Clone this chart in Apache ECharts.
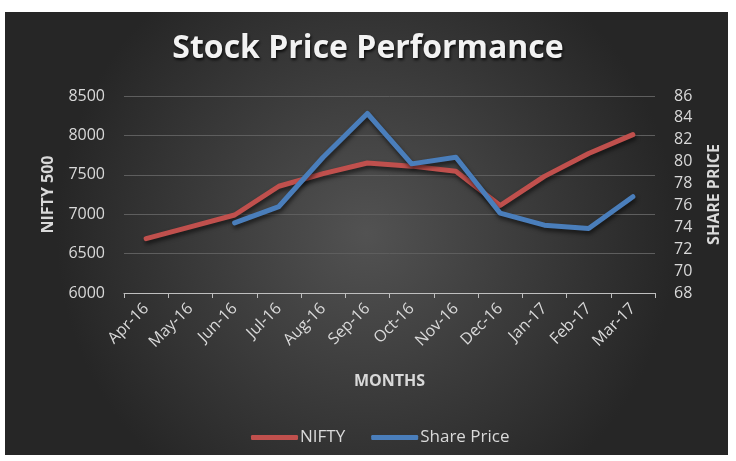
<!DOCTYPE html>
<html>
<head>
<meta charset="utf-8">
<script src="https://cdn.jsdelivr.net/npm/echarts@6/dist/echarts.min.js"></script>
<style>
  html, body { margin: 0; padding: 0; background: #fff; }
  #chart { width: 736px; height: 461px; }
</style>
</head>
<body>
<div id="chart"></div>
<script>
const months = ['Apr-16', 'May-16', 'Jun-16', 'Jul-16', 'Aug-16', 'Sep-16', 'Oct-16', 'Nov-16', 'Dec-16', 'Jan-17', 'Feb-17', 'Mar-17']
const nifty = [6690, 6840, 6990, 7355, 7515, 7650, 7610, 7545, 7110, 7480, 7770, 8010]
const sharePrice = [null, null, 74.4, 75.9, 80.4, 84.4, 79.8, 80.4, 75.3, 74.2, 73.9, 76.8]

const labelColor = '#d9d9d9'
const font = 'Open Sans'

let myChart = echarts.init(document.getElementById('chart'), null, { renderer: 'canvas' })

const lineShadow = {
    shadowColor: 'rgba(0,0,0,0.6)',
    shadowBlur: 4,
    shadowOffsetY: 3,
    shadowOffsetX: 1
}

myChart.setOption({
    backgroundColor: '#ffffff',
    animation: false,
    graphic: [
        {
            type: 'rect',
            left: 5,
            top: 12,
            z: -10,
            shape: { width: 723, height: 443 },
            style: {
                fill: new echarts.graphic.RadialGradient(0.5, 0.5, 0.7, [
                    { offset: 0, color: '#525252' },
                    { offset: 1, color: '#262626' }
                ])
            }
        }
    ],
    title: {
        text: 'Stock Price Performance',
        left: 'center',
        top: 28,
        textStyle: {
            fontFamily: font,
            fontWeight: 'bold',
            fontSize: 32,
            color: '#f2f2f2',
            textShadowColor: 'rgba(0,0,0,0.8)',
            textShadowBlur: 3,
            textShadowOffsetX: 1,
            textShadowOffsetY: 2
        }
    },
    legend: {
        bottom: 10,
        left: 246,
        icon: 'roundRect',
        itemWidth: 47,
        itemHeight: 5,
        itemGap: 26,
        textStyle: { color: labelColor, fontFamily: font, fontSize: 17, padding: [0, 0, 0, -3] },
        data: ['NIFTY', 'Share Price']
    },
    grid: {
        left: 124,
        right: 81,
        top: 96,
        bottom: 168
    },
    xAxis: {
        type: 'category',
        data: months,
        boundaryGap: true,
        name: 'MONTHS',
        nameLocation: 'middle',
        nameGap: 80,
        nameTextStyle: { color: labelColor, fontFamily: font, fontWeight: 'bold', fontSize: 16 },
        axisLine: { lineStyle: { color: '#bfbfbf', width: 1 } },
        axisTick: { show: true, length: 5, alignWithLabel: false, lineStyle: { color: '#bfbfbf' } },
        axisLabel: {
            rotate: 45,
            interval: 0,
            margin: 13,
            color: labelColor,
            fontFamily: font,
            fontSize: 16
        }
    },
    yAxis: [
        {
            type: 'value',
            min: 6000,
            max: 8500,
            interval: 500,
            name: 'NIFTY 500',
            nameLocation: 'middle',
            nameGap: 68,
            nameRotate: 90,
            nameTextStyle: { color: labelColor, fontFamily: font, fontWeight: 'bold', fontSize: 16 },
            axisLine: { show: false },
            axisTick: { show: false },
            axisLabel: { color: labelColor, fontFamily: font, fontSize: 16, margin: 19, formatter: v => String(v) },
            splitLine: { lineStyle: { color: '#5e5e5e', width: 1 } }
        },
        {
            type: 'value',
            min: 68,
            max: 86,
            interval: 2,
            position: 'right',
            name: 'SHARE PRICE',
            nameLocation: 'middle',
            nameGap: 51,
            nameRotate: 90,
            nameTextStyle: { color: labelColor, fontFamily: font, fontWeight: 'bold', fontSize: 16 },
            axisLine: { show: false },
            axisTick: { show: false },
            axisLabel: { color: labelColor, fontFamily: font, fontSize: 16, margin: 19 },
            splitLine: { show: false }
        }
    ],
    series: [
        {
            name: 'NIFTY',
            type: 'line',
            data: nifty,
            yAxisIndex: 0,
            symbol: 'none',
            color: '#c0504d',
            lineStyle: Object.assign({ width: 5, color: '#c0504d', cap: 'round', join: 'round' }, lineShadow)
        },
        {
            name: 'Share Price',
            type: 'line',
            data: sharePrice,
            yAxisIndex: 1,
            symbol: 'none',
            color: '#4a7ebb',
            lineStyle: Object.assign({ width: 5, color: '#4a7ebb', cap: 'round', join: 'round' }, lineShadow)
        }
    ]
})
</script>
</body>
</html>
